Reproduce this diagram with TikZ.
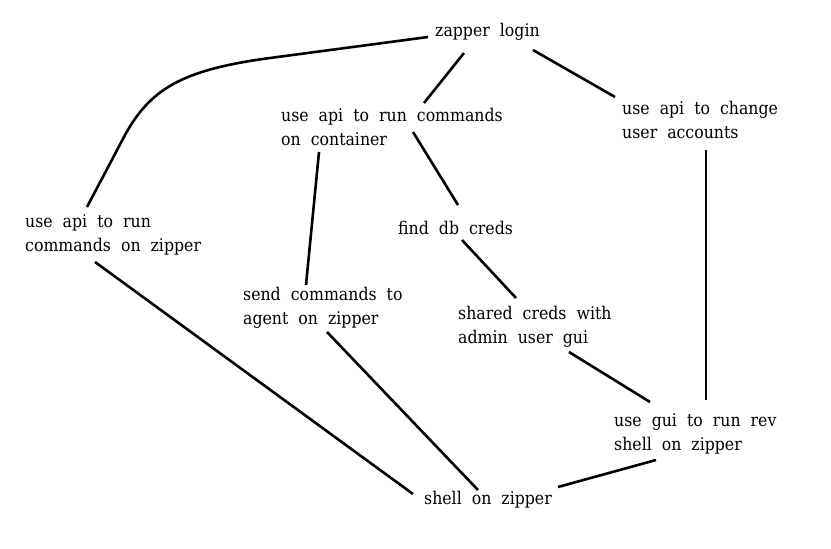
\documentclass[tikz,border=0pt]{standalone}
\usepackage{fontspec}
\setmainfont[WordSpace=2.0,FakeStretch=0.9]{DejaVu Serif}
\begin{document}
\begin{tikzpicture}[x=1pt,y=-1pt,
  lbl/.style={anchor=west,align=left,inner sep=0pt,font=\fontsize{17.5}{24}\selectfont},
  edge/.style={line width=2.6pt}]
\useasboundingbox (0,0) rectangle (831,549);
\node[lbl] (login) at (435,32) {zapper login};
\node[lbl] (runc) at (281,127) {use api to run commands\\on container};
\node[lbl] (change) at (622,120) {use api to change\\user accounts};
\node[lbl] (runz) at (25,235) {use api to run\\commands on zipper};
\node[lbl] (db) at (398,228) {find db creds};
\node[lbl] (agent) at (243,308) {send commands to\\agent on zipper};
\node[lbl] (shared) at (458,327) {shared creds with\\admin user gui};
\node[lbl] (rev) at (614,434) {use gui to run rev\\shell on zipper};
\node[lbl] (shell) at (424,500) {shell on zipper};
\draw[edge] ([shift={(-7,5)}]login.west) -- (270,58) .. controls (180,70) and (150,90) .. (125,135) -- ([shift={(62,-28)}]runz.west);
\draw[edge] ([shift={(29,21)}]login.west) -- ([shift={(143,-24)}]runc.west);
\draw[edge] ([shift={(98,18)}]login.west) -- ([shift={(-7,-23)}]change.west);
\draw[edge] ([shift={(132,5)}]runc.west) -- ([shift={(60,-23)}]db.west);
\draw[edge] ([shift={(38,25)}]runc.west) -- ([shift={(63,-23)}]agent.west);
\draw[edge] ([shift={(84,30)}]change.west) -- ([shift={(92,-34)}]rev.west);
\draw[edge] ([shift={(64,12)}]db.west) -- ([shift={(58,-29)}]shared.west);
\draw[edge] ([shift={(70,27)}]runz.west) -- ([shift={(-11,-6)}]shell.west);
\draw[edge] ([shift={(84,24)}]agent.west) -- ([shift={(54,-10)}]shell.west);
\draw[edge] ([shift={(111,25)}]shared.west) -- ([shift={(36,-32)}]rev.west);
\draw[edge] ([shift={(42,26)}]rev.west) -- ([shift={(134,-13)}]shell.west);
\end{tikzpicture}
\end{document}
